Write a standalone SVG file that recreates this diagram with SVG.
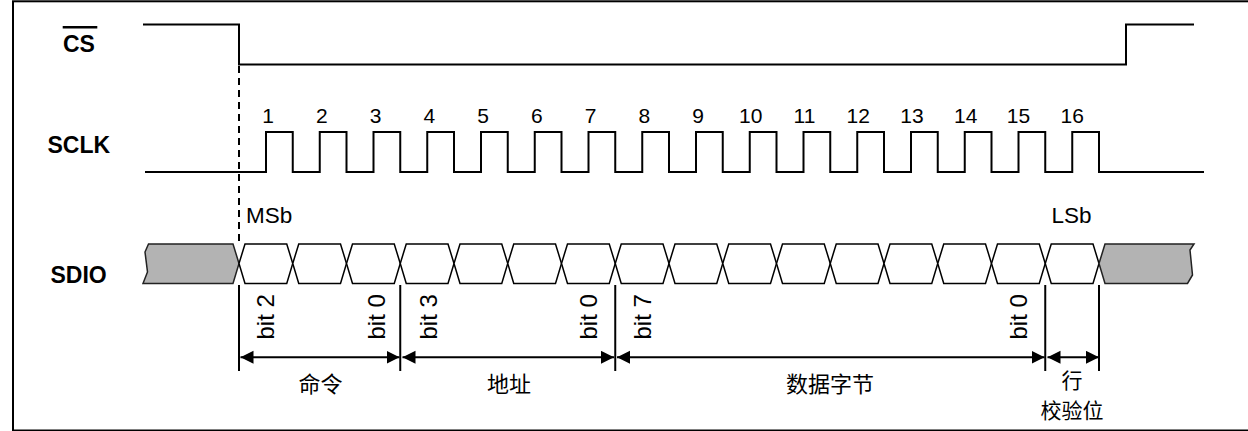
<svg xmlns="http://www.w3.org/2000/svg" xmlns:xlink="http://www.w3.org/1999/xlink" width="1248" height="431" viewBox="0 0 1248 431">
<style>
.sig{fill:none;stroke:#000;stroke-width:2;stroke-linejoin:miter}
.lbl{font-family:"Liberation Sans",Arial,sans-serif;font-weight:bold;font-size:23px;fill:#000}
.txt{font-family:"Liberation Sans",Arial,sans-serif;font-size:22.5px;fill:#000}
.bit{font-family:"Liberation Sans",Arial,sans-serif;font-size:24px;fill:#000}
.num{font-family:"Liberation Sans",Arial,sans-serif;font-size:21px;fill:#000;text-anchor:middle}
.cjk{font-family:"Noto Sans CJK SC",sans-serif;font-size:22px;fill:#000;text-anchor:middle}
.cell{fill:#fff;stroke:#000;stroke-width:1.5;stroke-linejoin:miter}
.gray{fill:#b3b3b3;stroke:#222;stroke-width:1.5;stroke-linejoin:miter}
.dim{stroke:#000;stroke-width:2;fill:none}
.arr{stroke:#000;stroke-width:2;fill:none;marker-start:url(#ah);marker-end:url(#ah)}
</style>
<defs>
<marker id="ah" markerUnits="userSpaceOnUse" markerWidth="14" markerHeight="14" refX="13" refY="6.5" orient="auto-start-reverse" viewBox="0 0 14 14">
<path d="M0,0 L13,6.5 L0,13 z" fill="#000"/>
</marker>
<polygon id="hex" points="0,263.5 6,244 47.75,244 53.75,263.5 47.75,283.5 6,283.5"/>
</defs>
<rect x="13" y="1.3" width="1245" height="429.2" fill="#fff" stroke="#000" stroke-width="2"/>

<g id="label-cs">
<text class="lbl" x="63" y="52.3">CS</text>
<line x1="62.7" y1="27.3" x2="97.3" y2="27.3" stroke="#000" stroke-width="2.5"/>
</g>
<g id="label-sclk"><text class="lbl" x="47.5" y="153.3">SCLK</text></g>
<g id="label-sdio"><text class="lbl" x="50.5" y="283">SDIO</text></g>

<g id="cs-wave">
<path class="sig" d="M143,24.5 H239 V64.5 H1126 V24.5 H1194"/>
</g>

<g id="sclk-wave">
<path class="sig" d="M145,172 H266 V132 H292.75 V172 H319.75 V132 H346.5 V172 H373.5 V132 H400.25 V172 H427.25 V132 H454 V172 H481 V132 H507.75 V172 H534.75 V132 H561.5 V172 H588.5 V132 H615.25 V172 H642.25 V132 H669 V172 H696 V132 H722.75 V172 H749.75 V132 H776.5 V172 H803.5 V132 H830.25 V172 H857.25 V132 H884 V172 H911 V132 H937.75 V172 H964.75 V132 H991.5 V172 H1018.5 V132 H1045.25 V172 H1072.25 V132 H1099 V172 H1204"/>
<g id="sclk-numbers">
<text class="num" x="268" y="123.3">1</text>
<text class="num" x="321.75" y="123.3">2</text>
<text class="num" x="375.5" y="123.3">3</text>
<text class="num" x="429.25" y="123.3">4</text>
<text class="num" x="483" y="123.3">5</text>
<text class="num" x="536.75" y="123.3">6</text>
<text class="num" x="590.5" y="123.3">7</text>
<text class="num" x="644.25" y="123.3">8</text>
<text class="num" x="698" y="123.3">9</text>
<text class="num" x="750.75" y="123.3">10</text>
<text class="num" x="804.5" y="123.3">11</text>
<text class="num" x="858.25" y="123.3">12</text>
<text class="num" x="912" y="123.3">13</text>
<text class="num" x="965.75" y="123.3">14</text>
<text class="num" x="1018.5" y="123.3">15</text>
<text class="num" x="1072.25" y="123.3">16</text>
</g>
</g>

<g id="sdio-wave">
<path class="gray" d="M148.5,244 L145,252 L147.5,272 L143,283.5 L233,283.5 L239,263.5 L233,244 Z"/>
<use href="#hex" class="cell" x="239"/>
<use href="#hex" class="cell" x="292.75"/>
<use href="#hex" class="cell" x="346.5"/>
<use href="#hex" class="cell" x="400.25"/>
<use href="#hex" class="cell" x="454"/>
<use href="#hex" class="cell" x="507.75"/>
<use href="#hex" class="cell" x="561.5"/>
<use href="#hex" class="cell" x="615.25"/>
<use href="#hex" class="cell" x="669"/>
<use href="#hex" class="cell" x="722.75"/>
<use href="#hex" class="cell" x="776.5"/>
<use href="#hex" class="cell" x="830.25"/>
<use href="#hex" class="cell" x="884"/>
<use href="#hex" class="cell" x="937.75"/>
<use href="#hex" class="cell" x="991.5"/>
<use href="#hex" class="cell" x="1045.25"/>
<path class="gray" d="M1099,263.5 L1105,244 L1194,244 L1190,250 L1192.5,275 L1187.5,283.5 L1105,283.5 Z"/>
</g>

<g id="markers">
<text class="txt" x="246" y="223.3">MSb</text>
<text class="txt" x="1051.5" y="223.3">LSb</text>
</g>

<g id="bit-labels">
<text class="bit" transform="translate(273.5,339.5) rotate(-90)">bit 2</text>
<text class="bit" transform="translate(384.5,339.5) rotate(-90)">bit 0</text>
<text class="bit" transform="translate(436.5,339.5) rotate(-90)">bit 3</text>
<text class="bit" transform="translate(597,339.5) rotate(-90)">bit 0</text>
<text class="bit" transform="translate(650.5,339.5) rotate(-90)">bit 7</text>
<text class="bit" transform="translate(1027,339.5) rotate(-90)">bit 0</text>
</g>

<g id="connectors">
<line class="dim" x1="239" y1="66" x2="239" y2="243" stroke-dasharray="7 5"/>
<line class="dim" x1="239" y1="285" x2="239" y2="371"/>
<line class="dim" x1="400.25" y1="285" x2="400.25" y2="371"/>
<line class="dim" x1="615.25" y1="285" x2="615.25" y2="371"/>
<line class="dim" x1="1045.25" y1="285" x2="1045.25" y2="371"/>
<line class="dim" x1="1099" y1="285" x2="1099" y2="371"/>
<line class="arr" x1="240.5" y1="357.3" x2="399.5" y2="357.3"/>
<line class="arr" x1="402.5" y1="357.3" x2="614" y2="357.3"/>
<line class="arr" x1="617" y1="357.3" x2="1044.5" y2="357.3"/>
<line class="arr" x1="1047.5" y1="357.3" x2="1099" y2="357.3"/>
</g>

<g id="field-labels">
<text class="cjk" x="320.5" y="391.5">命令</text>
<text class="cjk" x="509" y="391.5">地址</text>
<text class="cjk" x="830" y="391.5">数据字节</text>
<text class="cjk" style="font-size:21px"><tspan x="1072" y="387.5">行</tspan><tspan x="1072" y="418">校验位</tspan></text>
</g>
</svg>
